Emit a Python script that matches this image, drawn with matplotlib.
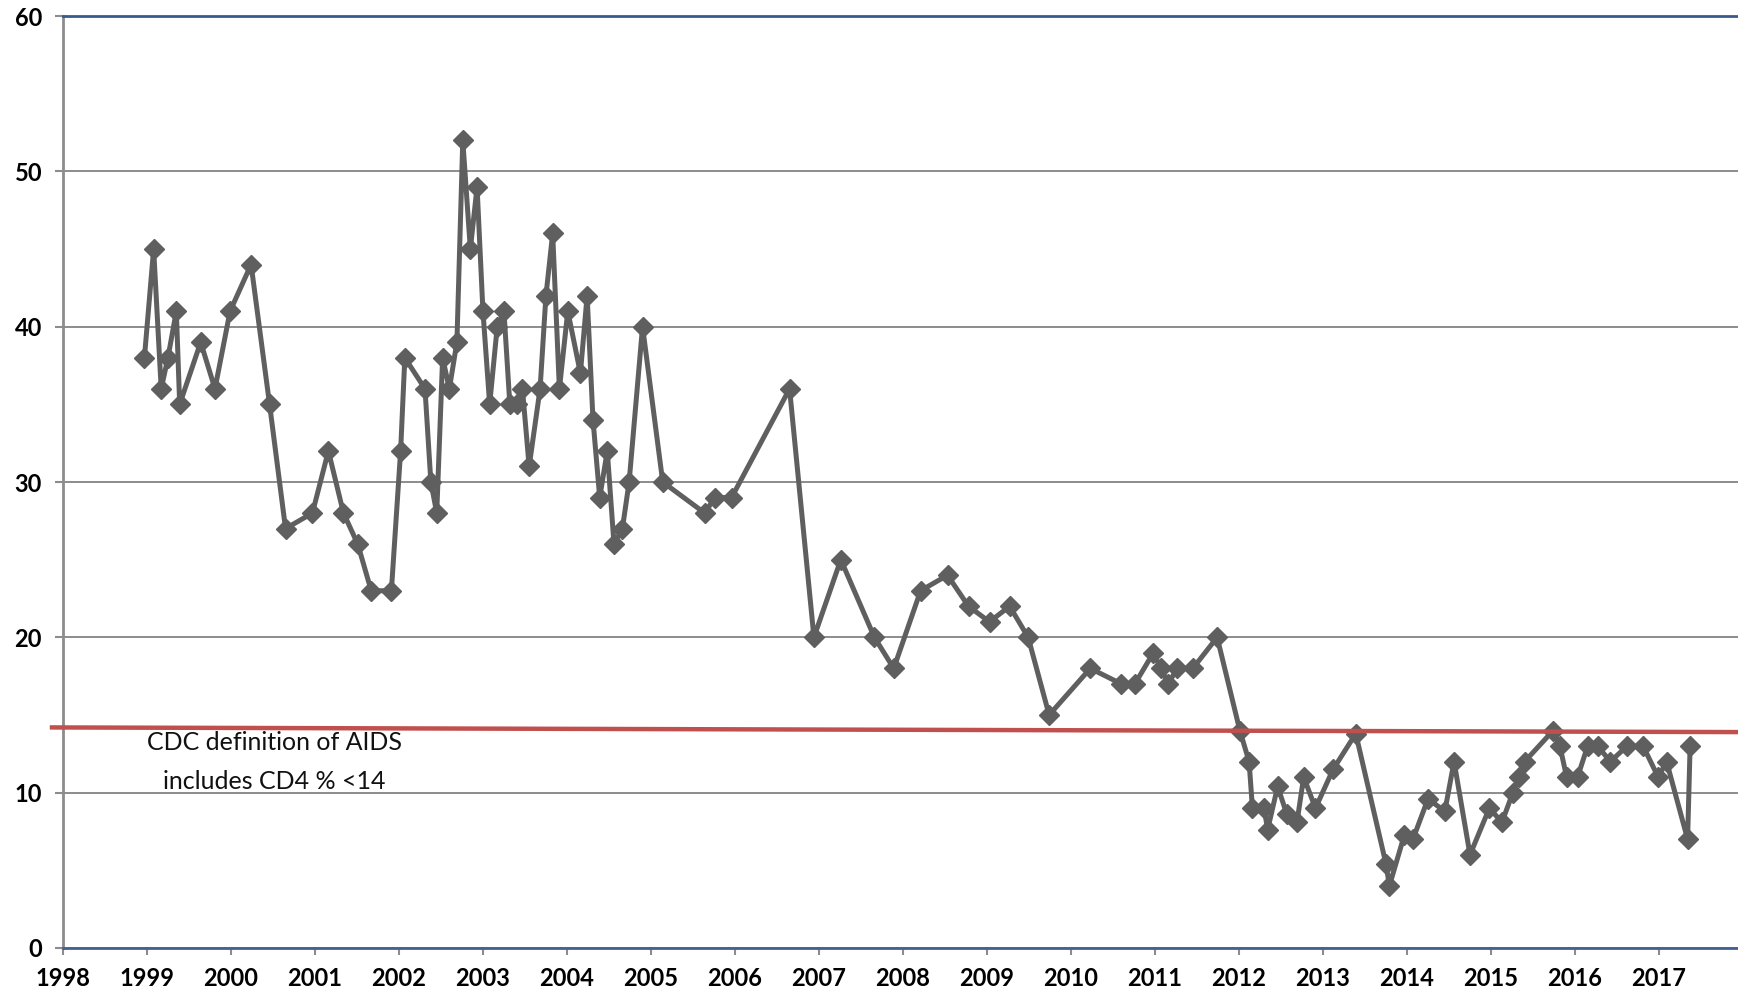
"""
CD4 % over time with the CDC AIDS threshold
Run: python plot.py  -> out.png
"""
import matplotlib
matplotlib.use('Agg')
import matplotlib.pyplot as plt

plt.rcParams.update({'font.family':['Lato','DejaVu Sans'],'font.size':14})

# ── data (decimal years, CD4 %) ─────────────────────────────────────────
dates=[1998.97,1999.08,1999.17,1999.25,1999.35,1999.39,1999.64,1999.81,1999.99,
       2000.24,2000.46,2000.65,2000.97,2001.16,2001.34,2001.51,2001.67,2001.91,
       2002.02,2002.07,2002.31,2002.38,2002.45,2002.52,2002.60,2002.69,2002.76,
       2002.85,2002.93,2003.00,2003.08,2003.17,2003.25,2003.32,2003.40,2003.47,
       2003.55,2003.68,2003.75,2003.83,2003.91,2004.01,2004.16,2004.24,2004.31,
       2004.39,2004.48,2004.56,2004.66,2004.74,2004.90,2005.14,2005.64,2005.76,
       2005.96,2006.65,2006.94,2007.26,2007.66,2007.89,2008.21,2008.53,2008.78,
       2009.03,2009.27,2009.49,2009.74,2010.23,2010.60,2010.76,2010.98,2011.07,
       2011.16,2011.26,2011.45,2011.74,2012.01,2012.12,2012.16,2012.30,2012.34,
       2012.46,2012.57,2012.69,2012.77,2012.91,2013.12,2013.39,2013.75,2013.79,
       2013.97,2014.07,2014.25,2014.45,2014.56,2014.75,2014.98,2015.13,2015.26,
       2015.33,2015.40,2015.74,2015.82,2015.90,2016.03,2016.15,2016.27,2016.42,
       2016.62,2016.81,2016.99,2017.09,2017.34,2017.37]
cd4=[38,45,36,38,41,35,39,36,41,
     44,35,27,28,32,28,26,23,23,
     32,38,36,30,28,38,36,39,52,
     45,49,41,35,40,41,35,35,36,
     31,36,42,46,36,41,37,42,34,
     29,32,26,27,30,40,30,28,29,
     29,36,20,25,20,18,23,24,22,
     21,22,20,15,18,17,17,19,18,
     17,18,18,20,14,12,9,9,7.6,
     10.4,8.6,8.1,11,9,11.5,13.8,5.4,4,
     7.3,7,9.6,8.8,12,6,9,8.1,10,
     11,12,14,13,11,11,13,13,12,
     13,13,11,12,7,13]

years=list(range(1998,2018))
yticks=[0,10,20,30,40,50,60]

# CDC threshold line (drawn by hand in the original, slightly tilted)
cdc_x=[1997.87,2017.94]
cdc_y=[14.2,13.9]
cdc_text=['CDC definition of AIDS','includes CD4 % <14']
cdc_text_x=2000.52
cdc_text_y=[13.2,10.75]

GRID='#8c8c8c'; LINE='#5f5f5f'; RED='#c0504d'

fig=plt.figure(figsize=(17.38,9.96),dpi=100)
ax=fig.add_axes([0.0362,0.0482,0.9638,0.9357])

ax.plot(dates,cd4,color=LINE,linewidth=3.6,marker='D',markersize=10,
        markerfacecolor=LINE,markeredgecolor=LINE,zorder=4)

ax.plot(cdc_x,cdc_y,color=RED,linewidth=3.2,clip_on=False,zorder=5)
for t,yy in zip(cdc_text,cdc_text_y):
    ax.text(cdc_text_x,yy,t,ha='center',va='center',fontsize=18,color='#111111')

ax.set_xlim(1998,2017.94); ax.set_ylim(0,60)
ax.set_xticks(years); ax.set_yticks(yticks)
ax.set_xticklabels([str(y) for y in years],fontweight='bold',fontsize=17)
ax.set_yticklabels([str(v) for v in yticks],fontweight='bold',fontsize=17)
ax.tick_params(axis='x',length=5,width=1.5,color=GRID,pad=9)
ax.tick_params(axis='y',length=6,width=1.5,color=GRID,pad=9)

ax.grid(axis='y',color=GRID,linewidth=1.4,zorder=0)
ax.set_axisbelow(True)
ax.spines['right'].set_visible(False)
ax.spines['left'].set_color(GRID); ax.spines['left'].set_linewidth(2)
ax.spines['bottom'].set_color('#44618f'); ax.spines['bottom'].set_linewidth(2)
ax.spines['top'].set_color('#3b5a8c'); ax.spines['top'].set_linewidth(2)

fig.savefig('out.png',dpi=100)
plt.close()
